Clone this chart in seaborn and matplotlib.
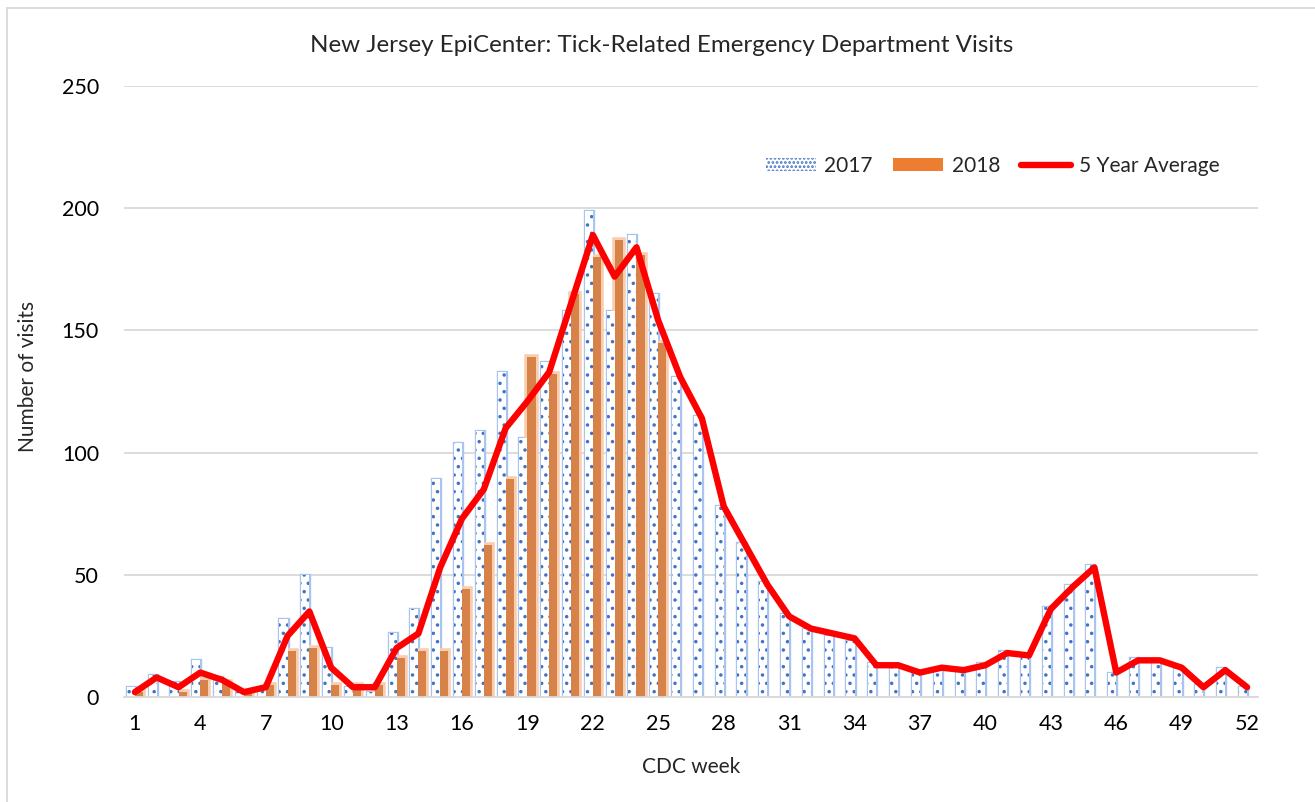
import numpy as np
import pandas as pd
import seaborn as sns
import matplotlib.pyplot as plt
from matplotlib.patches import Patch, Rectangle
from matplotlib.lines import Line2D

weeks = list(range(1, 53))
visits_2017 = [4, 9, 6, 15, 8, 2, 3, 32, 50, 20,
               4, 2, 26, 36, 89, 104, 109, 133, 106, 137,
               158, 199, 158, 189, 165, 131, 115, 78, 63, 47,
               34, 28, 25, 23, 14, 12, 10, 12, 11, 14,
               19, 17, 37, 46, 54, 10, 16, 15, 12, 5,
               12, 4]
visits_2018 = [2, np.nan, 2, 7, 6, 2, 5, 19, 20, 5,
               5, 5, 16, 19, 19, 44, 62, 89, 139, 132,
               165, 180, 187, 181, 145]
avg_5yr = [2, 8, 4, 10, 7, 2, 4, 25, 35, 12,
           4, 4, 20, 26, 53, 73, 85, 110, 121, 133,
           161, 189, 172, 184, 154, 131, 114, 78, 62, 46,
           33, 28, 26, 24, 13, 13, 10, 12, 11, 13,
           18, 17, 36, 45, 53, 10, 15, 15, 12, 4,
           11, 4]
years = ['2017', '2018']

df = pd.concat([
    pd.DataFrame({'week': weeks, 'year': '2017', 'visits': visits_2017}),
    pd.DataFrame({'week': weeks[:len(visits_2018)], 'year': '2018', 'visits': visits_2018}),
]).dropna()

sns.set_style('white')
plt.rcParams['font.family'] = ['Lato', 'DejaVu Sans']
plt.rcParams['hatch.linewidth'] = 1.3

fig = plt.figure(figsize=(13.15, 8.02), dpi=100)
ax = fig.add_axes([124 / 1315, 1 - 697 / 802, 1134 / 1315, 611 / 802])

blue_dot = '#4472C4'
blue_edge = '#A9C4EE'
orange = '#ED7D31'
orange_glow = '#F9CDAE'

# glow / outline layer behind
sns.barplot(data=df, x='week', y='visits', hue='year', hue_order=years,
            order=weeks, palette={'2017': 'white', '2018': orange},
            width=0.74, gap=0, legend=False, ax=ax, zorder=1)
for bar in ax.containers[0]:
    bar.set_edgecolor(blue_edge)
    bar.set_linewidth(2.4)
for bar in ax.containers[1]:
    bar.set_edgecolor(orange_glow)
    bar.set_linewidth(4)

# main layer with dotted 2017 bars
sns.barplot(data=df, x='week', y='visits', hue='year', hue_order=years,
            order=weeks, palette={'2017': 'white', '2018': orange},
            width=0.74, gap=0, legend=False, ax=ax, zorder=2)
for bar in ax.containers[2]:
    bar.set_hatch('..')
    bar.set_edgecolor(blue_dot)
    bar.set_linewidth(0)
for bar in ax.containers[3]:
    bar.set_linewidth(0)

sns.lineplot(x=np.arange(len(weeks)), y=avg_5yr, color='#FF0000', lw=4.6,
             ax=ax, zorder=5, solid_joinstyle='round', solid_capstyle='round')

ax.set_xlim(-0.5, len(weeks) - 0.5)
ax.set_ylim(0, 250)
ax.set_yticks(range(0, 251, 50))
ax.set_xticks(np.arange(0, len(weeks), 3))
ax.set_xticklabels(weeks[::3])
ax.tick_params(axis='both', length=0, labelsize=15.5, colors='black')
ax.tick_params(axis='y', pad=18)
ax.tick_params(axis='x', pad=12)
ax.grid(axis='y', color='#D9D9D9', lw=1.3, zorder=0)
ax.set_axisbelow(True)
for side in ['top', 'right', 'left']:
    ax.spines[side].set_visible(False)
ax.spines['bottom'].set_color('#D9D9D9')
ax.spines['bottom'].set_linewidth(1.3)

ax.set_xlabel('CDC week', fontsize=15)
ax.set_ylabel('Number of visits', fontsize=15)
ax.xaxis.set_label_coords(0.5, -0.115)
ax.xaxis.label.set_va('center')
ax.yaxis.set_label_coords(-0.085, 0.525)
ax.yaxis.label.set_va('center')

fig.text(0.503, 1 - 45 / 802, 'New Jersey EpiCenter: Tick-Related Emergency Department Visits',
         ha='center', va='center', fontsize=17.4)

handles = [
    Patch(facecolor='white', edgecolor=blue_dot, hatch='....', lw=0, label='2017'),
    Patch(facecolor=orange, edgecolor=orange, lw=0, label='2018'),
    Line2D([], [], color='#FF0000', lw=4.6, solid_capstyle='round', label='5 Year Average'),
]
fig.legend(handles=handles, loc='center', bbox_to_anchor=(0.755, 1 - 166 / 802),
           ncol=3, frameon=False, fontsize=15, handlelength=2.4, handleheight=0.6,
           columnspacing=1.0, handletextpad=0.4)

fig.add_artist(Rectangle((7 / 1315, -0.01), 1.1, 1 - 8 / 802 + 0.01, transform=fig.transFigure,
                         fill=False, ec='#D9D9D9', lw=1.3))

fig.savefig('out.png', dpi=100)
